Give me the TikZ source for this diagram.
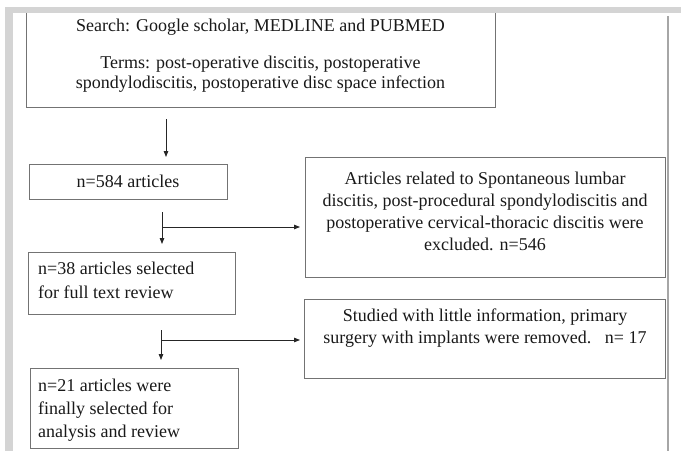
\documentclass[tikz,border=0pt]{standalone}
\usepackage{fontspec}
\setmainfont{Liberation Serif}
\usetikzlibrary{arrows.meta}
\begin{document}
\begin{tikzpicture}[x=1pt,y=-1pt,
  boxnode/.style={draw=black!55, line width=1pt, rectangle, inner sep=0pt},
  txt/.style={font=\fontsize{18}{22}\selectfont, inner sep=0pt, text=black!90},
  arr/.style={draw=black!85, line width=0.8pt, -{Triangle[length=6pt,width=4.5pt]}},
  ln/.style={draw=black!85, line width=0.8pt},
  band/.style={fill=black!17, draw=none}]
\fill[white] (0,0) rectangle (681,451);
\useasboundingbox (0,0) rectangle (681,451);
% boxes
\node[boxnode, minimum width=469pt, minimum height=97pt] (top) at (260.5,58.5) {};
\node[boxnode, minimum width=198pt, minimum height=35pt] (b584) at (128,181.5) {};
\node[boxnode, minimum width=360pt, minimum height=120pt] (ex1) at (485,217) {};
\node[boxnode, minimum width=207pt, minimum height=62pt] (b38) at (131.5,283) {};
\node[boxnode, minimum width=361pt, minimum height=79pt] (ex2) at (484.5,338.5) {};
\node[boxnode, minimum width=208pt, minimum height=80pt] (b21) at (134,408) {};
% texts
\node[txt] (t1) at (260.5,27) {Search: Google scholar, MEDLINE and PUBMED};
\node[txt, align=center, font=\fontsize{18}{20}\selectfont] (t2) at (260.5,74) {Terms: post-operative discitis, postoperative\\spondylodiscitis, postoperative disc space infection};
\node[txt] (t3) at (b584) {n=584 articles};
\node[txt, align=center] (t4) at (485,211.5) {Articles related to Spontaneous lumbar\\discitis, post-procedural spondylodiscitis and\\postoperative cervical-thoracic discitis were\\excluded. n=546};
\node[txt, align=left, anchor=west, font=\fontsize{18}{24}\selectfont] (t5) at (38,280.5) {n=38 articles selected\\for full text review};
\node[txt, align=center] (t6) at (485,328) {Studied with little information, primary\\surgery with implants were removed.\ \ \ n= 17};
\node[txt, align=left, anchor=west, font=\fontsize{18}{23}\selectfont] (t7) at (38,410) {n=21 articles were\\finally selected for\\analysis and review};
% connectors
\coordinate (a1s) at (166,119);
\coordinate (a1e) at (166,157);
\coordinate (a2s) at (162,212);
\coordinate (a2e) at (162,244);
\coordinate (h2s) at (162,227);
\coordinate (h2e) at (300,227);
\coordinate (a3s) at (161,330);
\coordinate (a3e) at (161,360);
\coordinate (h3s) at (161,340);
\coordinate (h3e) at (300,340);
\draw[arr] (a1s) -- (a1e);
\draw[arr] (a2s) -- (a2e);
\draw[arr] (h2s) -- (h2e);
\draw[arr] (a3s) -- (a3e);
\draw[arr] (h3s) -- (h3e);
% frame
\fill[band] (5,7) rectangle (681,13);
\fill[band] (5,7) rectangle (13,451);
\draw[black!35, line width=1.6pt] (668,16) -- (668,451);
\end{tikzpicture}
\end{document}
